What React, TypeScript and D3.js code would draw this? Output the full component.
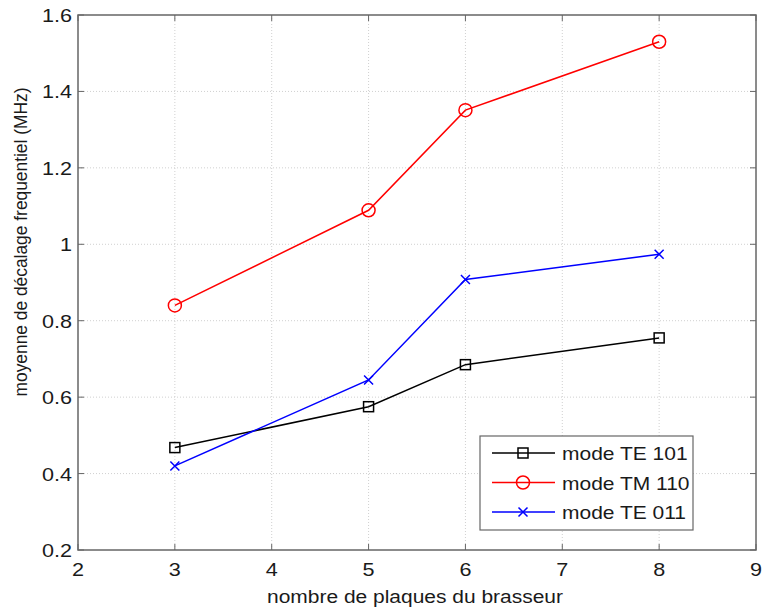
import React, { useEffect, useRef } from 'react'
import * as d3 from 'd3'

const plaques = [3, 5, 6, 8]
const te101 = [0.468, 0.575, 0.685, 0.755]
const tm110 = [0.840, 1.089, 1.351, 1.530]
const te011 = [0.420, 0.645, 0.908, 0.974]
const xTicks = [2, 3, 4, 5, 6, 7, 8, 9]
const yTicks = [0.2, 0.4, 0.6, 0.8, 1, 1.2, 1.4, 1.6]

const series = [
  { name: 'mode TE 101', values: te101, color: '#000000', marker: 'square' },
  { name: 'mode TM 110', values: tm110, color: '#ff0000', marker: 'circle' },
  { name: 'mode TE 011', values: te011, color: '#0000ff', marker: 'cross' },
]

const FONT = 'Liberation Sans, Arial, sans-serif'
const STRETCH = 1.2 // source image is a bit wider than tall

export default function App() {
  const ref = useRef<SVGSVGElement>(null)

  useEffect(() => {
    const el = ref.current
    if (!el) return
    const W = 763, H = 610
    const pad = { l: 78, r: 7, t: 15, b: 60 }
    const svg = d3.select(el)
    svg.selectAll('*').remove()

    const x = d3.scaleLinear().domain([2, 9]).range([pad.l, W - pad.r])
    const y = d3.scaleLinear().domain([0.2, 1.6]).range([H - pad.b, pad.t])

    const label = (g: any, tx: number, ty: number, txt: string, anchor = 'start', size = 18) =>
      g.append('text').attr('transform', `translate(${tx},${ty}) scale(${STRETCH},1)`)
        .attr('text-anchor', anchor).attr('font-size', size).attr('font-family', FONT)
        .attr('fill', '#1a1a1a').text(txt)

    // grid
    xTicks.slice(1, -1).forEach(t => {
      svg.append('line').attr('x1', x(t)).attr('x2', x(t)).attr('y1', y(0.2)).attr('y2', y(1.6))
        .attr('stroke', '#d0d0d0').attr('stroke-dasharray', '1,2').attr('stroke-width', 1)
    })
    yTicks.slice(1, -1).forEach(t => {
      svg.append('line').attr('x1', x(2)).attr('x2', x(9)).attr('y1', y(t)).attr('y2', y(t))
        .attr('stroke', '#d0d0d0').attr('stroke-dasharray', '1,2').attr('stroke-width', 1)
    })

    // box
    svg.append('rect').attr('x', x(2)).attr('y', y(1.6)).attr('width', x(9) - x(2)).attr('height', y(0.2) - y(1.6))
      .attr('fill', 'none').attr('stroke', '#666').attr('stroke-width', 1.5)

    // ticks
    xTicks.forEach(t => {
      svg.append('line').attr('x1', x(t)).attr('x2', x(t)).attr('y1', y(0.2)).attr('y2', y(0.2) - 6).attr('stroke', '#666')
      svg.append('line').attr('x1', x(t)).attr('x2', x(t)).attr('y1', y(1.6)).attr('y2', y(1.6) + 6).attr('stroke', '#666')
      label(svg, x(t), y(0.2) + 26, String(t), 'middle')
    })
    yTicks.forEach(t => {
      svg.append('line').attr('x1', x(2)).attr('x2', x(2) + 6).attr('y1', y(t)).attr('y2', y(t)).attr('stroke', '#666')
      svg.append('line').attr('x1', x(9)).attr('x2', x(9) - 6).attr('y1', y(t)).attr('y2', y(t)).attr('stroke', '#666')
      label(svg, x(2) - 6, y(t) + 7, d3.format('~g')(t), 'end')
    })

    // axis labels
    svg.append('text').attr('x', 415).attr('y', H - 7).attr('text-anchor', 'middle')
      .attr('font-size', 17.5).attr('font-family', FONT).attr('fill', '#1a1a1a')
      .attr('textLength', 296).attr('lengthAdjust', 'spacingAndGlyphs')
      .text('nombre de plaques du brasseur')
    svg.append('text').attr('transform', `translate(27,242) rotate(-90)`).attr('text-anchor', 'middle')
      .attr('font-size', 17.5).attr('font-family', FONT).attr('fill', '#1a1a1a')
      .attr('textLength', 309).attr('lengthAdjust', 'spacingAndGlyphs')
      .text('moyenne de décalage frequentiel (MHz)')

    const drawMarker = (g: any, kind: string, cx: number, cy: number, color: string) => {
      if (kind === 'square') {
        g.append('rect').attr('x', cx - 5).attr('y', cy - 5).attr('width', 10).attr('height', 10)
          .attr('fill', 'none').attr('stroke', color).attr('stroke-width', 1.5)
      } else if (kind === 'circle') {
        g.append('circle').attr('cx', cx).attr('cy', cy).attr('r', 6.5)
          .attr('fill', 'none').attr('stroke', color).attr('stroke-width', 1.5)
      } else {
        g.append('path').attr('d', `M${cx - 4.5},${cy - 4.5}L${cx + 4.5},${cy + 4.5}M${cx - 4.5},${cy + 4.5}L${cx + 4.5},${cy - 4.5}`)
          .attr('stroke', color).attr('stroke-width', 1.5)
      }
    }

    const line = d3.line<[number, number]>().x(d => x(d[0])).y(d => y(d[1]))
    series.forEach(s => {
      const pts = plaques.map((p, i) => [p, s.values[i]] as [number, number])
      svg.append('path').attr('d', line(pts)).attr('fill', 'none').attr('stroke', s.color).attr('stroke-width', 1.5)
      pts.forEach(p => drawMarker(svg, s.marker, x(p[0]), y(p[1]), s.color))
    })

    // legend
    const lg = svg.append('g')
    lg.append('rect').attr('x', 480).attr('y', 436).attr('width', 213).attr('height', 94)
      .attr('fill', '#fff').attr('stroke', '#666').attr('stroke-width', 1.2)
    series.forEach((s, i) => {
      const ly = 453 + i * 29.5
      lg.append('line').attr('x1', 492).attr('x2', 555).attr('y1', ly).attr('y2', ly).attr('stroke', s.color).attr('stroke-width', 1.5)
      drawMarker(lg, s.marker, 523, ly, s.color)
      label(lg, 562, ly + 7, s.name, 'start', 17.5)
    })
  }, [])

  return <svg ref={ref} width={763} height={610} style={{ display: 'block', position: 'absolute', left: 0, top: 0 }} />
}
